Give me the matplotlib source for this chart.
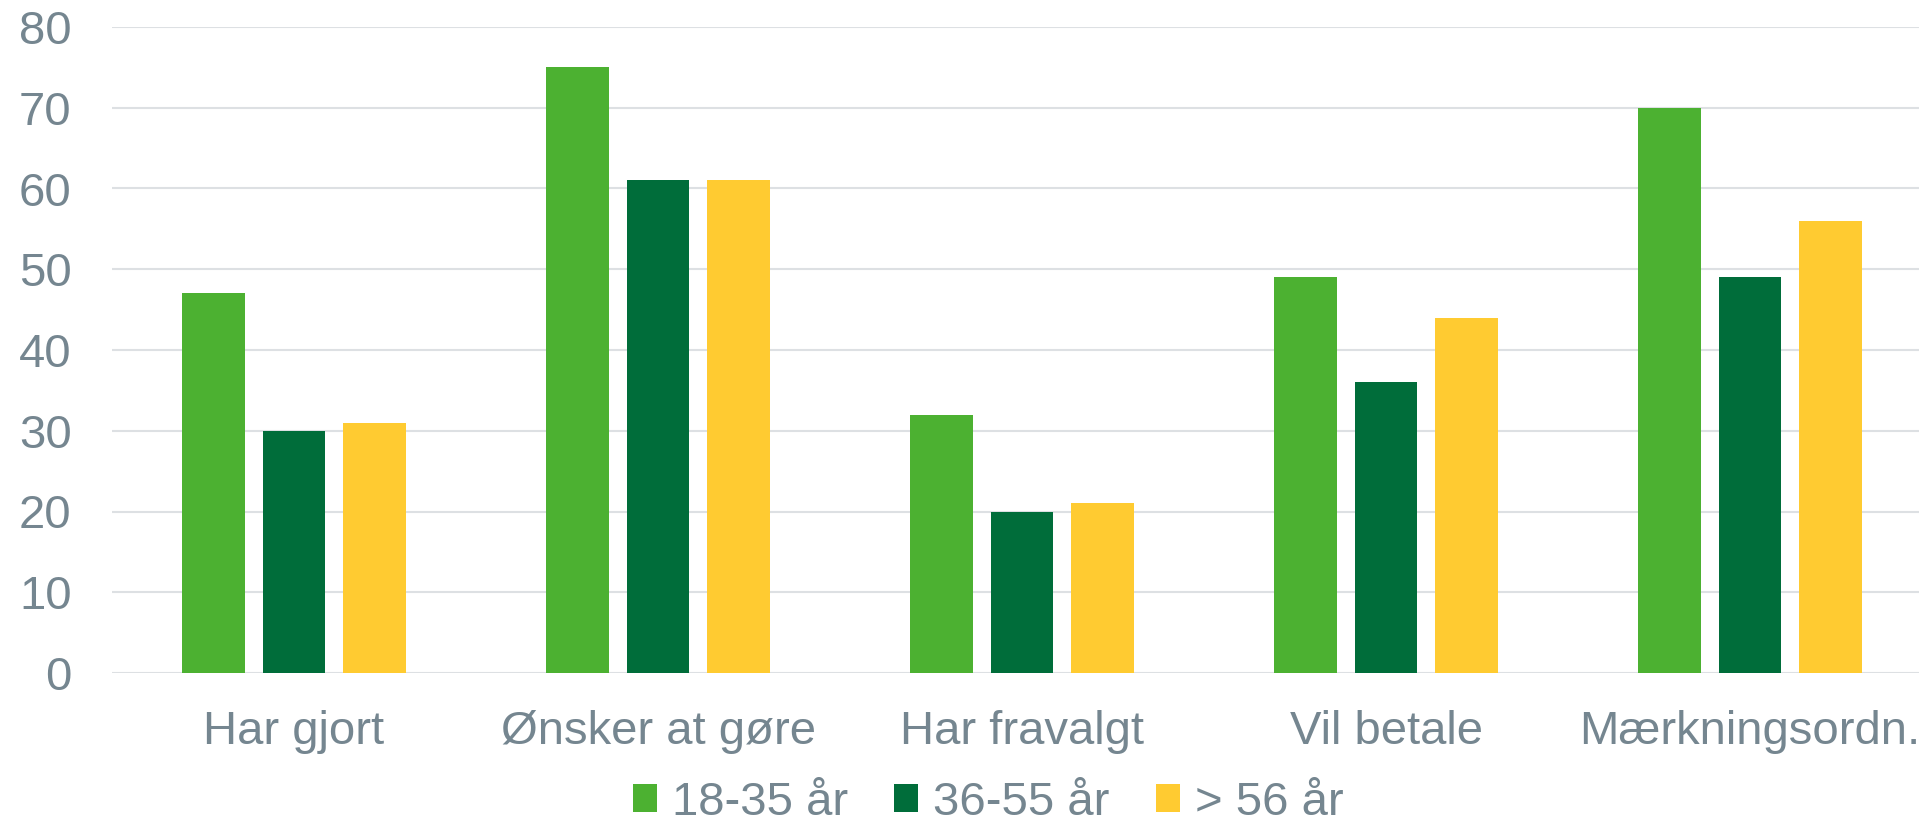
import matplotlib.pyplot as plt
import numpy as np

# data
categories = ["Har gjort", "Ønsker at gøre", "Har fravalgt", "Vil betale", "Mærkningsordn."]
series_names = ["18-35 år", "36-55 år", "> 56 år"]
young = [47, 75, 32, 49, 70]
middle = [30, 61, 20, 36, 49]
old = [31, 61, 21, 44, 56]
yticks = [0, 10, 20, 30, 40, 50, 60, 70, 80]

colors = ["#4CB131", "#006D3A", "#FFCB31"]
text_color = "#758690"

plt.rcParams['font.family'] = ['Liberation Sans', 'DejaVu Sans']

fig = plt.figure(figsize=(19.19, 8.26), dpi=100)
# axes runs past the right edge, like the reference
ax = fig.add_axes([112 / 1919, 153 / 826, 1820 / 1919, 646 / 826])

x = np.arange(len(categories))
width = 0.173
offset = 0.222

for i, (vals, name) in enumerate(zip([young, middle, old], series_names)):
    ax.bar(x + (i - 1) * offset, vals, width, color=colors[i], label=name, zorder=3)

ax.set_xlim(-0.5, len(categories) - 0.5)
ax.set_ylim(0, 80)
ax.set_yticks(yticks)
ax.set_xticks(x)
ax.set_xticklabels(categories)

ax.grid(axis='y', color='#DDE0E3', linewidth=1.5, zorder=0)
ax.set_axisbelow(True)
for s in ax.spines.values():
    s.set_visible(False)

ax.tick_params(axis='both', length=0, labelsize=34, colors=text_color)
ax.tick_params(axis='y', pad=29)
ax.tick_params(axis='x', pad=27)
for lbl in ax.get_yticklabels() + ax.get_xticklabels():
    lbl.set_color(text_color)

leg = fig.legend(loc='center', bbox_to_anchor=(0.515, 0.028), ncol=3, frameon=False,
                 fontsize=34, handlelength=0.51, handleheight=0.53,
                 handletextpad=0.32, columnspacing=0.98)
for t in leg.get_texts():
    t.set_color(text_color)

fig.savefig("out.png", dpi=100)
